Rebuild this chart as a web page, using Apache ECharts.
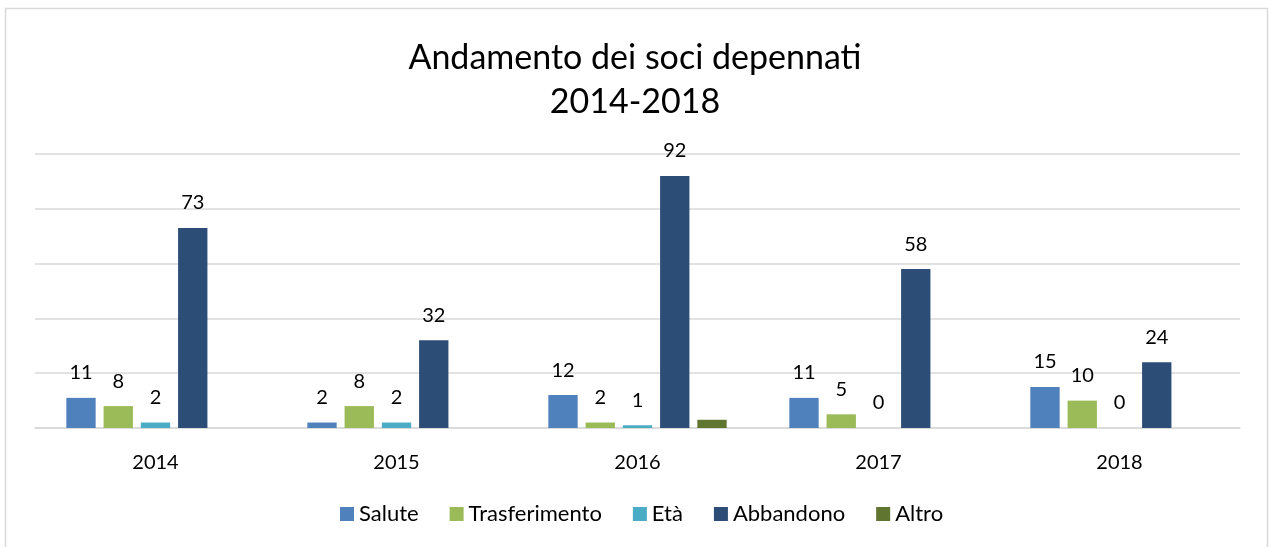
<html>
    <head>
        <meta charset="utf-8">
        <script src="https://cdn.jsdelivr.net/npm/echarts@6/dist/echarts.min.js"></script>
    </head>
    <body style="margin:0">
        <div id="main" style="width:1270px;height:547px"></div>
        <script>

        var years = ['2014', '2015', '2016', '2017', '2018'];
        var salute = [11, 2, 12, 11, 15];
        var trasferimento = [8, 8, 2, 5, 10];
        var eta = [2, 2, 1, 0, 0];
        var abbandono = [73, 32, 92, 58, 24];
        var altro = [0, 0, 3, 0, 0];

        var font = 'Lato';
        var chart = echarts.init(document.getElementById('main'));

        function bar(name, data, color, showLabel) {
            return {
                name: name,
                type: 'bar',
                data: data,
                barGap: '27%',
                barCategoryGap: '26%',
                itemStyle: { color: color },
                label: {
                    show: showLabel,
                    position: 'top',
                    distance: 15,
                    color: '#000',
                    fontSize: 20,
                    fontFamily: font
                }
            };
        }

        chart.setOption({
            backgroundColor: '#fff',
            graphic: [{
                type: 'rect',
                shape: { x: 5.5, y: 8.5, width: 1262, height: 545 },
                style: { fill: 'none', stroke: '#d9d9d9', lineWidth: 1.5 },
                silent: true
            }],
            title: {
                text: 'Andamento dei soci depennati\n2014-2018',
                left: 'center',
                top: 31,
                textStyle: {
                    fontFamily: font,
                    fontSize: 34,
                    fontWeight: 'normal',
                    color: '#000',
                    lineHeight: 44
                }
            },
            legend: {
                bottom: 22,
                left: 340,
                padding: 0,
                icon: 'rect',
                itemWidth: 14,
                itemHeight: 14,
                itemGap: 31,
                textStyle: { fontFamily: font, fontSize: 22, color: '#000' }
            },
            grid: { left: 35, right: 30, top: 154, bottom: 119 },
            xAxis: {
                type: 'category',
                data: years,
                axisLine: { lineStyle: { color: '#d9d9d9', width: 1.5 } },
                axisTick: { show: false },
                axisLabel: { fontFamily: font, fontSize: 20, color: '#000', margin: 25 }
            },
            yAxis: {
                type: 'value',
                min: 0,
                max: 100,
                interval: 20,
                axisLabel: { show: false },
                axisLine: { show: false },
                axisTick: { show: false },
                splitLine: { lineStyle: { color: '#d9d9d9', width: 1.5 } }
            },
            series: [
                bar('Salute', salute, '#4f81bd', true),
                bar('Trasferimento', trasferimento, '#9bbb59', true),
                bar('Età', eta, '#4bacc6', true),
                bar('Abbandono', abbandono, '#2c4d75', true),
                bar('Altro', altro, '#5f7530', false)
            ]
        });

        window.onresize = chart.resize;

        </script>
    </body>
</html>
